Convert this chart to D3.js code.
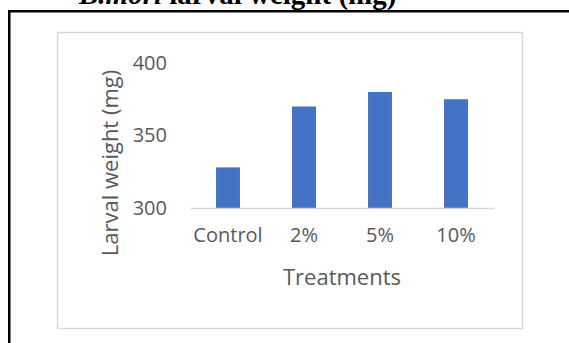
<!DOCTYPE html>
<html>
<head>
<meta charset="utf-8">
<script src="https://cdn.jsdelivr.net/npm/d3@7"></script>
<style>
  html, body { margin: 0; padding: 0; background: #fff; }
  svg { display: block; }
</style>
</head>
<body>
<svg id="chart" width="569" height="343"></svg>
<script>
// Larval weight per treatment
const categories = ["Control", "2%", "5%", "10%"];
const weights = [328, 370, 380, 375];
const yTicks = [300, 350, 400];

const svg = d3.select("#chart");
const W = 569, H = 343;

// Document frame (runs off the right and bottom edges)
svg.append("rect")
  .attr("x", 9.25).attr("y", 11.25)
  .attr("width", W + 20).attr("height", H + 20)
  .attr("fill", "none").attr("stroke", "#000").attr("stroke-width", 2.5);

// Heading, partly clipped at the top
const head = svg.append("text")
  .attr("x", 79).attr("y", 4)
  .attr("font-family", "'Liberation Serif', 'Times New Roman', serif")
  .attr("font-size", 29).attr("font-weight", "bold").attr("fill", "#000");
head.append("tspan").attr("font-style", "italic").text("B.mori");
head.append("tspan").text(" larval weight (mg)");

// Chart area border
svg.append("rect")
  .attr("x", 57.5).attr("y", 32.5)
  .attr("width", 465).attr("height", 296)
  .attr("fill", "#fff").attr("stroke", "#d9d9d9").attr("stroke-width", 1.5);

const plot = { left: 190, right: 494, top: 63, bottom: 208 };

const x = d3.scaleBand()
  .domain(categories)
  .range([plot.left, plot.right])
  .paddingInner(0.685)
  .paddingOuter(0.3425);

const y = d3.scaleLinear()
  .domain([300, 400])
  .range([plot.bottom, plot.top]);

const font = "'Open Sans', 'Segoe UI', sans-serif";
const textColor = "#595959";

// Bars
svg.append("g").selectAll("rect")
  .data(categories.map((c, i) => ({ c, v: weights[i] })))
  .join("rect")
  .attr("x", d => x(d.c))
  .attr("width", x.bandwidth())
  .attr("y", d => y(d.v))
  .attr("height", d => y(300) - y(d.v))
  .attr("fill", "#4472c4");

// Category axis
const xAxis = svg.append("g")
  .attr("transform", `translate(0,${plot.bottom})`)
  .call(d3.axisBottom(x).tickSize(0).tickPadding(20));
xAxis.select(".domain").attr("stroke", "#d9d9d9").attr("stroke-width", 1.5);
xAxis.selectAll("text")
  .attr("font-family", font).attr("font-size", 20).attr("fill", textColor);

// Value axis (labels only)
const yAxis = svg.append("g")
  .attr("transform", `translate(${plot.left},0)`)
  .call(d3.axisLeft(y).tickValues(yTicks).tickSize(0).tickPadding(23));
yAxis.select(".domain").remove();
yAxis.selectAll("text")
  .attr("font-family", font).attr("font-size", 20).attr("fill", textColor);

// Axis titles
svg.append("text")
  .attr("x", (plot.left + plot.right) / 2).attr("y", 285)
  .attr("text-anchor", "middle")
  .attr("font-family", font).attr("font-size", 22).attr("fill", textColor)
  .text("Treatments");

svg.append("text")
  .attr("transform", `translate(109,163) rotate(-90)`)
  .attr("text-anchor", "middle")
  .attr("dominant-baseline", "central")
  .attr("font-family", font).attr("font-size", 22).attr("fill", textColor)
  .text("Larval weight (mg)");
</script>
</body>
</html>
